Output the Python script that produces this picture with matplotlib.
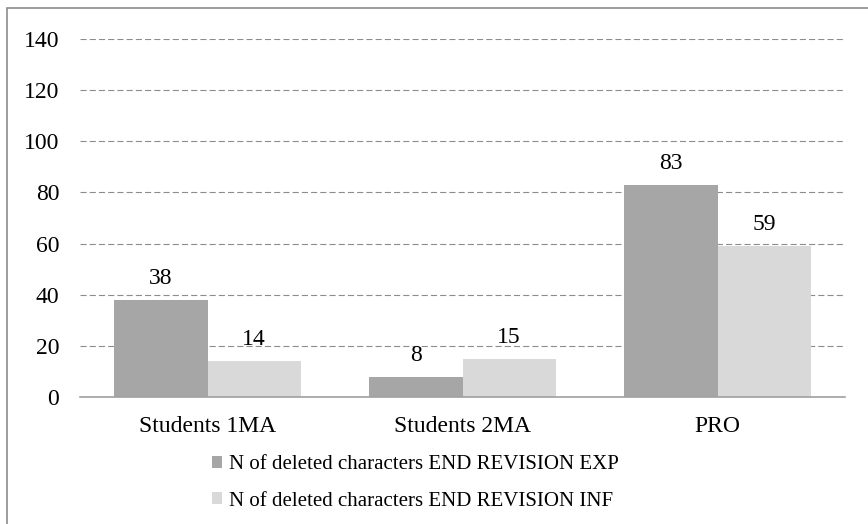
import matplotlib
matplotlib.use("Agg")
import matplotlib.pyplot as plt
import numpy as np
from matplotlib.patches import Rectangle

categories = ["Students 1MA", "Students 2MA", "PRO"]
exp_values = [38, 8, 83]
inf_values = [14, 15, 59]
series_names = ["N of deleted characters END REVISION EXP",
                "N of deleted characters END REVISION INF"]
yticks = [0, 20, 40, 60, 80, 100, 120, 140]

plt.rcParams['font.family'] = ['Liberation Serif', 'DejaVu Serif']

W, H = 868, 524
fig = plt.figure(figsize=(W/100, H/100), dpi=100)
ax = fig.add_axes([80/W, 1-397/H, (845-80)/W, (397-39)/H])

x = np.arange(len(categories))
bw = 0.365
b1 = ax.bar(x - bw/2, exp_values, bw, color='#a6a6a6', zorder=3, label=series_names[0])
b2 = ax.bar(x + bw/2, inf_values, bw, color='#d9d9d9', zorder=3, label=series_names[1])

for bars, vals in ((b1, exp_values), (b2, inf_values)):
    for r, v in zip(bars, vals):
        ax.annotate(str(v), (r.get_x() + r.get_width()/2, v), xytext=(0, 11.5),
                    textcoords='offset points', ha='center', va='baseline',
                    fontsize=17, color='#000000', zorder=4)

ax.set_xlim(-0.5, len(categories) - 0.5)
ax.set_ylim(0, 140)
ax.set_yticks(yticks)
ax.set_xticks(x)
ax.set_xticklabels(categories)
ax.tick_params(axis='both', length=0, labelsize=17, labelcolor='#000000')
ax.tick_params(axis='y', pad=15)
ax.tick_params(axis='x', pad=14)
ax.yaxis.grid(True, color='#8c8c8c', linewidth=0.8, linestyle=(0, (5.5, 2.8)), zorder=0)
for s in ['top', 'right', 'left']:
    ax.spines[s].set_visible(False)
ax.spines['bottom'].set_color('#a0a0a0')
ax.spines['bottom'].set_linewidth(1.2)
ax.spines['bottom'].set_zorder(4)

leg = fig.legend(handles=[b1, b2], loc='upper left',
                 bbox_to_anchor=(212/W, 1-455/H), frameon=False,
                 fontsize=15, handlelength=0.5, handleheight=0.5,
                 handletextpad=0.3, labelspacing=0.85, borderpad=0, borderaxespad=0)
for t in leg.get_texts():
    t.set_color('#000000')

# chart border (left and top visible; right/bottom cut off)
fig.add_artist(Rectangle((6.5/W, -0.1), 1.2, 1 - 8.5/H + 0.1, transform=fig.transFigure,
                         fill=False, edgecolor='#8c8c8c', linewidth=1.2))

fig.savefig('out.png', dpi=100)
